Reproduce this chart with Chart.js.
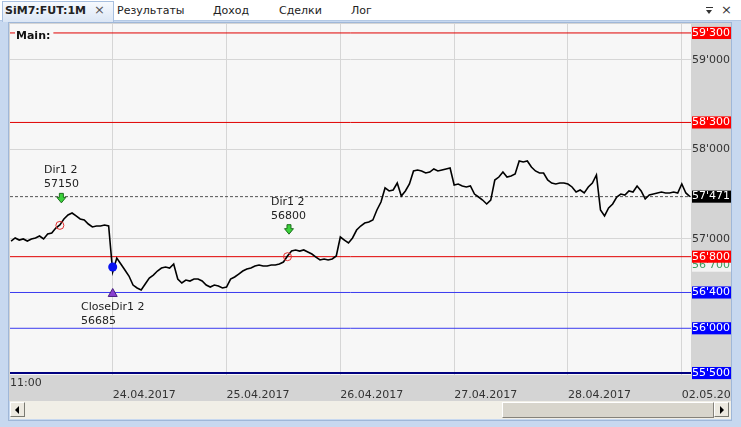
<!DOCTYPE html>
<html>
<head>
<meta charset="utf-8">
<title>SiM7:FUT:1M</title>
<script src="https://cdn.jsdelivr.net/npm/chart.js@4.4.1/dist/chart.umd.min.js"></script>
<style>
  body { margin:0; width:741px; height:427px; overflow:hidden; position:relative;
         background:#c7d8ef; font-family:"DejaVu Sans", Verdana, sans-serif; font-size:11px; color:#222; }
  #tabbar { position:absolute; left:0; top:0; width:741px; height:20px; background:#fff; border-bottom:1px solid #b3c8e4; }
  #activeTab { position:absolute; left:2px; top:1px; width:112px; height:21px; box-sizing:border-box;
               background:linear-gradient(#f7fafe,#dbe6f5); border:1px solid #a8c0e0; border-bottom:none; }
  .tab { position:absolute; top:4px; white-space:nowrap; }
  #panel { position:absolute; left:8px; top:22px; width:724px; height:399px; box-sizing:border-box; border:1px solid #9fb7d8; }
  #chart { position:absolute; left:9px; top:23px; }
  #scroll { position:absolute; left:10px; top:401px; width:721px; height:18px; background:#f1efe7; }
  .sbtn { position:absolute; top:1px; width:15px; height:15px; background:#ece9e0; border:1px solid; border-color:#fff #7a7a72 #7a7a72 #fff; box-sizing:border-box; }
  #thumb { position:absolute; left:492px; top:1px; width:212px; height:16px; background:#d8d5cc; border:1px solid; border-color:#fff #85827a #85827a #fff; box-sizing:border-box; }
  .arrL, .arrR { position:absolute; top:3px; width:0; height:0; border-top:4px solid transparent; border-bottom:4px solid transparent; }
  .arrL { left:4px; border-right:4px solid #000; }
  .arrR { left:5px; border-left:4px solid #000; }
</style>
</head>
<body>
<div id="tabbar">
  <div id="activeTab"></div>
  <div class="tab" style="left:5px;font-weight:bold">SiM7:FUT:1M</div>
  <div class="tab" style="left:94px;color:#555;font-size:13px;top:2px">×</div>
  <div class="tab" style="left:117px">Результаты</div>
  <div class="tab" style="left:213px">Доход</div>
  <div class="tab" style="left:279px">Сделки</div>
  <div class="tab" style="left:351px">Лог</div>
  <div style="position:absolute;left:706px;top:7px;width:7px;height:1px;background:#333"></div>
  <div style="position:absolute;left:706px;top:10px;width:0;height:0;border-left:3.5px solid transparent;border-right:3.5px solid transparent;border-top:4px solid #333"></div>
  <div class="tab" style="left:721px;color:#333;font-size:13px;top:2px">×</div>
</div>
<div id="panel"></div>
<canvas id="chart" width="722" height="378"></canvas>
<div id="scroll">
  <div class="sbtn" style="left:0"><div class="arrL"></div></div>
  <div id="thumb"></div>
  <div class="sbtn" style="left:704px"><div class="arrR"></div></div>
</div>

<script>
// --- data ---
// 30-minute closes, session minutes counted from 21.04 10:00 (840 min per session)
const firstBarMinute = 90;
const barMinutes = 30;
const closePrices = [
  56975, 57009, 56986, 56998, 56975, 56998, 57009, 57031, 56998, 57053,
  57065, 57120, 57154, 57221, 57266, 57288, 57255, 57221, 57210, 57165,
  57132, 57143, 57143, 57154, 57143, 56629, 56785, 56718, 56651, 56584,
  56483, 56450, 56428, 56495, 56562, 56595, 56640, 56673, 56685, 56673,
  56718, 56550, 56506, 56539, 56528, 56550, 56550, 56528, 56483, 56461,
  56483, 56472, 56450, 56461, 56550, 56573, 56606, 56640, 56662, 56673,
  56696, 56707, 56696, 56696, 56707, 56707, 56718, 56740, 56808, 56863,
  56875, 56863, 56875, 56852, 56830, 56796, 56763, 56774, 56763, 56774,
  56808, 57020, 56986, 56953, 57009, 57098, 57143, 57176, 57188, 57210,
  57322, 57411, 57568, 57534, 57545, 57623, 57478, 57534, 57612, 57758,
  57769, 57758, 57735, 57746, 57780, 57758, 57769, 57780, 57791, 57601,
  57612, 57590, 57579, 57590, 57500, 57467, 57433, 57389, 57433, 57657,
  57690, 57746, 57690, 57702, 57724, 57869, 57858, 57869, 57802, 57758,
  57735, 57735, 57657, 57623, 57612, 57623, 57623, 57612, 57579, 57523,
  57545, 57512, 57579, 57623, 57713, 57322, 57255, 57344, 57389, 57467,
  57500, 57489, 57534, 57523, 57590, 57534, 57445, 57489, 57500, 57512,
  57523, 57512, 57512, 57523, 57512, 57612, 57512, 57471
];
const lastPrice = 57471;

const levelPrices = [59300, 58300, 56800, 56400, 56000, 55500];
const levelKinds  = ['red', 'red', 'red', 'blue', 'blue', 'navy'];

const entryMinutes = [450, 2130];
const entryPrices  = [57150, 56800];
const entryNames   = ['Dir1 2', 'Dir1 2'];
const exitMinutes  = [840];
const exitPrices   = [56685];
const exitNames    = ['CloseDir1 2'];

const priceTicks = [55500, 56000, 56400, 56700, 56800, 57000, 57471, 58000, 58300, 59000, 59300];
const gridPrices = [57000, 58000, 59000];
const timeTicks  = [82, 840, 1680, 2520, 3360, 4200, 5040];
const timeLabels = ['11:00', '24.04.2017', '25.04.2017', '26.04.2017', '27.04.2017', '28.04.2017', '02.05.2017'];

// --- styles ---
const xMin = 82, xMax = 5108, yMin = 55478, yMax = 59400;
const FONT = { family: 'DejaVu Sans', size: 11, lineHeight: 1.1 };
const lineStyle = {
  red:  { color: '#e00000', width: 1 },
  blue: { color: '#3b3bef', width: 1 },
  navy: { color: '#000080', width: 2 }
};
// tag colours on the price axis: [background, text]
const tagStyle = {
  55500: ['#0000ff', '#fff'], 56000: ['#0000ff', '#fff'], 56400: ['#0000ff', '#fff'],
  56700: ['#f3f3f3', '#3a9a5c'], 56800: ['#ff0000', '#fff'], 57471: ['#000', '#fff'],
  58300: ['#ff0000', '#fff'], 59300: ['#ff0000', '#fff']
};

function fmtPrice(v) {
  return String(v).replace(/(\d)(\d{3})$/, "$1'$2");
}

const datasets = [];
datasets.push({
  type: 'scatter', order: 0,
  data: entryMinutes.map((m, i) => ({ x: m, y: entryPrices[i] })),
  pointStyle: 'circle', pointRadius: 4, borderWidth: 1,
  borderColor: '#e23030', backgroundColor: 'rgba(0,0,0,0)'
});
datasets.push({
  type: 'scatter', order: 0,
  data: exitMinutes.map((m, i) => ({ x: m, y: exitPrices[i] })),
  pointStyle: 'circle', pointRadius: 4.5, borderWidth: 0,
  borderColor: '#0a14f0', backgroundColor: '#0a14f0'
});
datasets.push({
  order: 1,
  data: closePrices.map((v, i) => ({ x: firstBarMinute + i * barMinutes, y: v })),
  borderColor: '#000', borderWidth: 1.6, pointRadius: 0, tension: 0
});
datasets.push({
  order: 2,
  data: [{ x: xMin, y: lastPrice }, { x: xMax, y: lastPrice }],
  borderColor: '#555', borderWidth: 1, borderDash: [3, 2], pointRadius: 0
});
levelPrices.forEach((p, i) => {
  const st = lineStyle[levelKinds[i]];
  datasets.push({
    order: 3,
    data: [{ x: xMin, y: p }, { x: xMax, y: p }],
    borderColor: st.color, borderWidth: st.width, pointRadius: 0
  });
});

// gray axis areas + plot background
const panelBg = {
  id: 'panelBg',
  beforeDraw(chart) {
    const { ctx, chartArea: a, width, height } = chart;
    ctx.save();
    ctx.fillStyle = '#d4d4d4';
    ctx.fillRect(0, 0, width, height);
    ctx.fillStyle = '#f7f7f7';
    ctx.fillRect(a.left, a.top, a.right - a.left, a.bottom - a.top);
    ctx.restore();
  }
};

function drawLines(ctx, lines, cx, firstY) {
  const w = Math.max(...lines.map(t => ctx.measureText(t).width));
  lines.forEach((t, k) => ctx.fillText(t, Math.round(cx - w / 2), firstY + k * 14));
}

// signal arrows, labels and the pane title
const signals = {
  id: 'signals',
  afterDatasetsDraw(chart) {
    const { ctx, scales: { x, y }, chartArea: a } = chart;
    ctx.save();
    ctx.font = '11px "DejaVu Sans"';
    ctx.textBaseline = 'middle';
    ctx.fillStyle = '#222';
    entryMinutes.forEach((m, i) => {
      const px = x.getPixelForValue(m) + 1.5, py = y.getPixelForValue(entryPrices[i]);
      const ay = py - 27;
      ctx.beginPath();
      ctx.moveTo(px - 2, ay - 5); ctx.lineTo(px + 2, ay - 5); ctx.lineTo(px + 2, ay - 1);
      ctx.lineTo(px + 4.5, ay - 1); ctx.lineTo(px, ay + 4.5); ctx.lineTo(px - 4.5, ay - 1);
      ctx.lineTo(px - 2, ay - 1); ctx.closePath();
      ctx.fillStyle = '#3bd23b'; ctx.fill();
      ctx.strokeStyle = '#1d6e1d'; ctx.lineWidth = 1; ctx.stroke();
      ctx.fillStyle = '#222';
      drawLines(ctx, [entryNames[i], String(entryPrices[i])], px, py - 55);
    });
    exitMinutes.forEach((m, i) => {
      const px = x.getPixelForValue(m), py = y.getPixelForValue(exitPrices[i]);
      const ty = py + 26;
      ctx.beginPath();
      ctx.moveTo(px, ty - 4.5); ctx.lineTo(px + 4.5, ty + 3.5); ctx.lineTo(px - 4.5, ty + 3.5);
      ctx.closePath();
      ctx.fillStyle = '#8a3fd0'; ctx.fill();
      ctx.strokeStyle = '#4a2080'; ctx.stroke();
      ctx.fillStyle = '#222';
      drawLines(ctx, [exitNames[i], String(exitPrices[i])], px, py + 40);
    });
    // pane title sits on a plain patch over the top level line
    ctx.font = 'bold 11px "DejaVu Sans"';
    const tw = ctx.measureText('Main:').width;
    ctx.fillStyle = '#f7f7f7';
    ctx.fillRect(a.left + 5, a.top + 4, tw + 4, 14);
    ctx.fillStyle = '#111';
    ctx.fillText('Main:', a.left + 6, a.top + 12);
    ctx.restore();
  }
};

new Chart(document.getElementById('chart'), {
  type: 'line',
  data: { datasets: datasets },
  plugins: [panelBg, signals],
  options: {
    responsive: false,
    animation: false,
    devicePixelRatio: 1,
    layout: { autoPadding: false, padding: { left: 1, top: 1, right: 0, bottom: 0 } },
    plugins: { legend: { display: false }, tooltip: { enabled: false } },
    scales: {
      x: {
        type: 'linear', min: xMin, max: xMax,
        afterBuildTicks: s => { s.ticks = timeTicks.map(v => ({ value: v })); },
        afterFit: s => { s.height = 26; s.paddingLeft = 0; s.paddingRight = 0; },
        grid: { color: c => (c.index === 0 ? 'rgba(0,0,0,0)' : '#d6d6d6'), drawTicks: false },
        border: { display: false },
        ticks: {
          autoSkip: false, maxRotation: 0, align: 'start', padding: 2,
          font: FONT, color: '#333',
          callback: (v, i) => (i === 0 ? [timeLabels[i], ''] : ['', timeLabels[i]])
        }
      },
      y: {
        type: 'linear', position: 'right', min: yMin, max: yMax,
        afterBuildTicks: s => { s.ticks = priceTicks.map(v => ({ value: v })); },
        afterFit: s => { s.width = 40; s.paddingTop = 0; s.paddingBottom = 0; },
        grid: { color: c => (c.tick && gridPrices.includes(c.tick.value) ? '#d6d6d6' : 'rgba(0,0,0,0)'), drawTicks: false },
        border: { display: false },
        ticks: {
          autoSkip: false, padding: 1, crossAlign: 'near', font: FONT,
          showLabelBackdrop: true,
          backdropPadding: { left: 0, right: 1, top: 0, bottom: 0 },
          backdropColor: c => (tagStyle[c.tick.value] ? tagStyle[c.tick.value][0] : 'rgba(0,0,0,0)'),
          color: c => (tagStyle[c.tick.value] ? tagStyle[c.tick.value][1] : '#333'),
          callback: v => fmtPrice(v)
        }
      }
    }
  }
});
</script>
</body>
</html>
